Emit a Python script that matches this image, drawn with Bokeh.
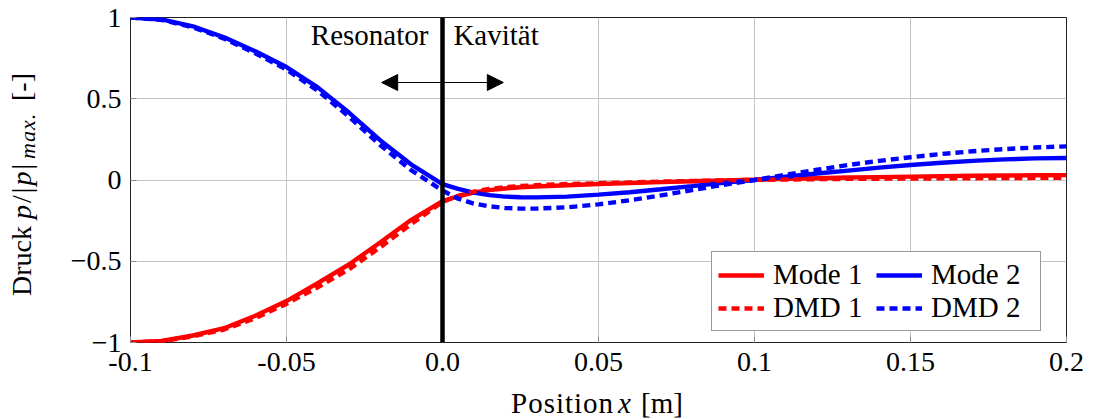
from bokeh.plotting import figure
from bokeh.layouts import row, column
from bokeh.models import (Range1d, FixedTicker, Legend, LegendItem, Div,
                          Label, Arrow, NormalHead, Span)
from bokeh.embed import file_html
from bokeh.resources import INLINE

# Axial position [m] (resonator: x < 0, cavity: x > 0)
position = [-0.10, -0.09, -0.08, -0.07, -0.06, -0.05, -0.04, -0.03, -0.02, -0.01,
            0.0, 0.005, 0.01, 0.015, 0.02, 0.025, 0.03, 0.04, 0.05, 0.06, 0.07,
            0.08, 0.09, 0.10, 0.11, 0.12, 0.13, 0.14, 0.15, 0.16, 0.17, 0.18,
            0.19, 0.20]

# Normalised pressure p/|p|max of the acoustic modes
mode_1 = [-1.0, -0.99, -0.957, -0.912, -0.835, -0.745, -0.635, -0.52, -0.385, -0.245,
          -0.13, -0.10, -0.077, -0.062, -0.052, -0.045, -0.04, -0.032, -0.025, -0.019,
          -0.013, -0.008, -0.003, 0.002, 0.007, 0.011, 0.015, 0.018, 0.021, 0.024,
          0.026, 0.028, 0.029, 0.03]
mode_2 = [1.0, 0.988, 0.946, 0.878, 0.792, 0.695, 0.57, 0.415, 0.245, 0.095,
          -0.025, -0.055, -0.078, -0.093, -0.102, -0.106, -0.107, -0.102, -0.09, -0.075,
          -0.057, -0.038, -0.018, 0.0, 0.02, 0.04, 0.058, 0.076, 0.092, 0.106,
          0.118, 0.127, 0.133, 0.135]

# Corresponding DMD modes
dmd_1 = [-1.0, -0.992, -0.962, -0.92, -0.85, -0.762, -0.66, -0.55, -0.415, -0.27,
         -0.135, -0.098, -0.072, -0.055, -0.044, -0.037, -0.032, -0.025, -0.02, -0.015,
         -0.01, -0.006, -0.002, 0.001, 0.003, 0.005, 0.007, 0.008, 0.009, 0.010,
         0.011, 0.012, 0.013, 0.014]
dmd_2 = [1.0, 0.985, 0.94, 0.87, 0.78, 0.68, 0.55, 0.39, 0.215, 0.06,
         -0.065, -0.115, -0.145, -0.162, -0.172, -0.176, -0.176, -0.168, -0.15, -0.125,
         -0.095, -0.062, -0.03, 0.0, 0.032, 0.063, 0.092, 0.118, 0.14, 0.16,
         0.177, 0.19, 0.2, 0.207]

x_ticks = [-0.1, -0.05, 0.0, 0.05, 0.1, 0.15, 0.2]
x_tick_labels = ["-0.1", "-0.05", "0.0", "0.05", "0.1", "0.15", "0.2"]
y_ticks = [-1.0, -0.5, 0.0, 0.5, 1.0]
y_tick_labels = ["\u22121", "\u22120.5", "0", "0.5", "1"]

FONT = "Liberation Serif"
RED = "#ff0000"
BLUE = "#0000ff"

TOTAL_W, TOTAL_H = 1094, 419
YLABEL_W = 45          # column holding the rotated y-axis label
XLABEL_H = 27          # strip holding the x-axis label
FRAME_W, FRAME_H = 936, 325

p = figure(frame_width=FRAME_W, frame_height=FRAME_H,
           min_border_left=130 - YLABEL_W, min_border_right=28,
           min_border_top=17, min_border_bottom=TOTAL_H - XLABEL_H - 17 - FRAME_H,
           x_range=Range1d(-0.1, 0.2), y_range=Range1d(-1.0, 1.0),
           output_backend="svg", toolbar_location=None,
           background_fill_color="white", border_fill_color="white")

p.outline_line_color = "#222222"
p.outline_line_width = 1

# axes: ticks inside, labels outside
for ax, ticks, labels in ((p.xaxis[0], x_ticks, x_tick_labels),
                          (p.yaxis[0], y_ticks, y_tick_labels)):
    ax.ticker = FixedTicker(ticks=ticks)
    ax.major_label_overrides = dict(zip(ticks, labels))
    ax.major_label_text_font = FONT
    ax.major_label_text_font_size = "28px"
    ax.major_label_text_color = "black"
    ax.axis_line_color = None
    ax.major_tick_in = 6
    ax.major_tick_out = 0
    ax.major_tick_line_color = "#8c8c8c"
    ax.minor_tick_line_color = None
p.xaxis[0].major_label_standoff = 10
p.yaxis[0].major_label_standoff = 9

for g, ticks in ((p.xgrid[0], x_ticks), (p.ygrid[0], y_ticks)):
    g.ticker = FixedTicker(ticks=ticks)
    g.grid_line_color = "#c4c4c4"
    g.grid_line_width = 1

# curves
r_m1 = p.line(position, mode_1, line_color=RED, line_width=4.4)
r_m2 = p.line(position, mode_2, line_color=BLUE, line_width=4.4)
r_d1 = p.line(position, dmd_1, line_color=RED, line_width=4.4, line_dash="8 5")
r_d2 = p.line(position, dmd_2, line_color=BLUE, line_width=4.4, line_dash="8 5")

# boundary between resonator and cavity
p.add_layout(Span(location=0.0, dimension="height", line_color="black", line_width=4.5))

p.add_layout(Arrow(x_start=-0.0195, y_start=0.6, x_end=0.0195, y_end=0.6,
                   line_color="black", line_width=1.2,
                   start=NormalHead(size=16, fill_color="black", line_color="black", line_width=1),
                   end=NormalHead(size=16, fill_color="black", line_color="black", line_width=1)))

p.add_layout(Label(x=-0.0045, y=0.89, text="Resonator", text_align="right",
                   text_baseline="alphabetic", text_font=FONT, text_font_size="29px",
                   text_color="black"))
p.add_layout(Label(x=0.0035, y=0.89, text="Kavität", text_align="left",
                   text_baseline="alphabetic", text_font=FONT, text_font_size="29px",
                   text_color="black"))

legend = Legend(items=[LegendItem(label="Mode 1", renderers=[r_m1]),
                       LegendItem(label="Mode 2", renderers=[r_m2]),
                       LegendItem(label="DMD 1", renderers=[r_d1]),
                       LegendItem(label="DMD 2", renderers=[r_d2])],
                orientation="horizontal", ncols=2,
                location=(581, 11),
                label_text_font=FONT, label_text_font_size="29px",
                label_text_color="black",
                glyph_width=46, glyph_height=20, label_standoff=9,
                label_width=103, label_height=28, spacing=0, padding=6, margin=0,
                border_line_color="#333333", border_line_width=1.2,
                background_fill_color="white", background_fill_alpha=1.0)
p.add_layout(legend)

# axis titles with italic symbols and subscript, set as HTML beside the canvas
y_title = Div(width=YLABEL_W, height=TOTAL_H, margin=0, text=(
    "<div style=\"box-sizing:border-box; width:45px; height:419px; "
    "writing-mode:vertical-rl; transform:rotate(180deg); "
    "padding-top:123px; padding-right:8px; white-space:nowrap; color:black; "
    "font-family:'Liberation Serif'; font-size:28px; line-height:28px;\">"
    "<span style=\"display:inline-block; inline-size:77px;\">Druck</span>"
    "<span style=\"display:inline-block; inline-size:60px; letter-spacing:2px;\">"
    "<i>p</i>/|<i>p</i>|</span>"
    "<span style=\"display:inline-block; inline-size:47px; font-size:22px; "
    "letter-spacing:1px; vertical-align:-6px;\"><i>max.</i></span>"
    "<span style=\"display:inline-block; margin-inline-start:11px;\">[-]</span>"
    "</div>"))

x_title = Div(width=TOTAL_W - YLABEL_W, height=XLABEL_H, margin=0, text=(
    "<div style=\"padding-left:466px; margin-top:-3px; white-space:nowrap; color:black; "
    "font-family:'Liberation Serif'; font-size:29px; line-height:29px;\">"
    "<span style=\"display:inline-block; width:107px; letter-spacing:1px;\">Position</span>"
    "<span style=\"display:inline-block; width:23px;\"><i>x</i></span>"
    "<span style=\"display:inline-block;\">[m]</span>"
    "</div>"))

layout = row(y_title, column(p, x_title, spacing=0), spacing=0)

open("out.html", "w").write(file_html(layout, INLINE))
